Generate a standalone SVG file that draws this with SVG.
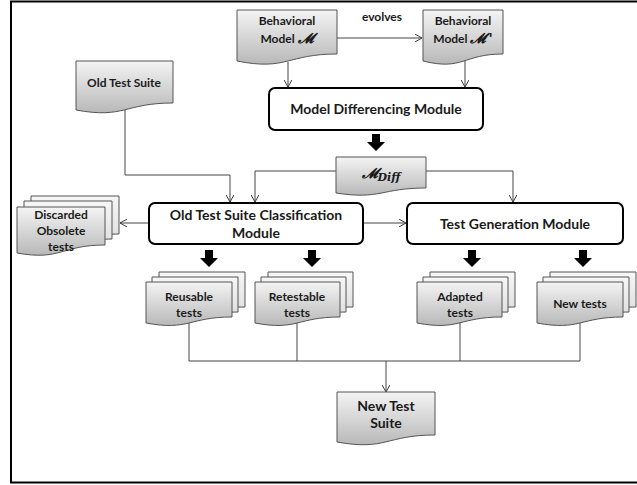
<svg xmlns="http://www.w3.org/2000/svg" width="637" height="485" viewBox="0 0 637 485">
<defs>
<linearGradient id="g" x1="0" y1="0" x2="0" y2="1">
<stop offset="0" stop-color="#f4f4f4"/>
<stop offset="1" stop-color="#b8b8b8"/>
</linearGradient>
<linearGradient id="gb" x1="0" y1="0" x2="0" y2="1">
<stop offset="0" stop-color="#f7f7f7"/>
<stop offset="1" stop-color="#dcdcdc"/>
</linearGradient>
<marker id="a" viewBox="0 0 10 10" refX="9" refY="5" markerWidth="8" markerHeight="8" markerUnits="userSpaceOnUse" orient="auto">
<path d="M0,0 L9,5 L0,10" fill="none" stroke="#333" stroke-width="1.2"/>
</marker>
<path id="blk" d="M-4,0 H4 V8 H9 L0,17 L-9,8 H-4 Z" fill="#000"/>
</defs>
<style>
.doc{fill:url(#g);stroke:#555;stroke-width:1}
.back{fill:url(#gb);stroke:#555;stroke-width:1}
.box{fill:#fff;stroke:#000;stroke-width:2}
.t{font-family:Lato,"Liberation Sans",sans-serif;font-weight:bold;fill:#1a1a1a;text-anchor:middle}
.s{font-size:12px}
.m{font-size:14px}
.c{fill:none;stroke:#444;stroke-width:1}
.ca{fill:none;stroke:#444;stroke-width:1;marker-end:url(#a)}
.math{font-family:"DejaVu Serif",serif;font-style:italic;font-weight:bold}
</style>
<rect x="11" y="1.5" width="640" height="481" fill="#fff" stroke="#000" stroke-width="2"/>

<g id="connectors">
<line class="ca" x1="337" y1="38" x2="422" y2="38"/>
<text class="t s" x="382" y="21">evolves</text>
<line class="ca" x1="288" y1="62" x2="288" y2="87"/>
<line class="ca" x1="465" y1="60" x2="465" y2="87"/>
<use href="#blk" x="376" y="134"/>
<polyline class="ca" points="336,171 255,171 255,202"/>
<polyline class="ca" points="426,171 513,171 513,202"/>
<polyline class="ca" points="125,110 125,175 230,175 230,202"/>
<line class="ca" x1="149" y1="223" x2="120" y2="223"/>
<line class="ca" x1="363" y1="223" x2="406" y2="223"/>
<use href="#blk" x="209" y="250"/>
<use href="#blk" x="312" y="250"/>
<use href="#blk" x="472" y="250"/>
<use href="#blk" x="583" y="250"/>
<polyline class="c" points="189,322 189,361 580,361 580,320"/>
<line class="c" x1="297" y1="322" x2="297" y2="361"/>
<line class="c" x1="460" y1="322" x2="460" y2="361"/>
<line class="ca" x1="386" y1="361" x2="386" y2="392"/>
</g>

<g id="model">
<path class="doc" d="M237,10 H337 V54 C287,54 287,71 237,61 Z"/>
<text class="t s" x="287" y="25">Behavioral</text>
<text class="t s" x="287" y="43">Model <tspan class="math" font-size="14">𝓜</tspan></text>
</g>

<g id="model2">
<path class="doc" d="M423,10 H503 V54 C463,54 463,71 423,61 Z"/>
<text class="t s" x="463" y="25">Behavioral</text>
<text class="t s" x="463" y="43">Model <tspan class="math" font-size="14">𝓜</tspan><tspan dx="2" font-family="'DejaVu Sans',sans-serif" font-size="14" font-weight="bold">'</tspan></text>
</g>

<g id="mdm">
<rect class="box" x="269" y="88" width="214" height="42" rx="6"/>
<text class="t m" x="376" y="114">Model Differencing Module</text>
</g>

<g id="mdiff">
<path class="doc" d="M336,157 H426 V188 C381,188 381,200 336,193 Z"/>
<text class="math" x="381" y="178" text-anchor="middle" font-size="14" fill="#1a1a1a">𝓜<tspan font-size="11" dy="3">Diff</tspan></text>
</g>

<g id="oldsuite">
<path class="doc" d="M76,61 H173 V103 C124.5,103 124.5,119 76,110 Z"/>
<text class="t s" x="124" y="87">Old Test Suite</text>
</g>

<g id="classif">
<rect class="box" x="149" y="203" width="214" height="41" rx="6"/>
<text class="t m" x="256" y="220">Old Test Suite Classification</text>
<text class="t m" x="256" y="238">Module</text>
</g>

<g id="testgen">
<rect class="box" x="407" y="203" width="216" height="41" rx="6"/>
<text class="t m" x="515" y="229">Test Generation Module</text>
</g>

<g id="discarded">
<path class="back" d="M31,196 H119 V234 C75,234 75,250 31,242 Z"/>
<path class="back" d="M24,201 H112 V239 C68,239 68,255 24,247 Z"/>
<path class="doc" d="M17,207 H105 V245 C61,245 61,261 17,253 Z"/>
<text class="t s" x="61" y="219">Discarded</text>
<text class="t s" x="61" y="235">Obsolete</text>
<text class="t s" x="61" y="251">tests</text>
</g>

<g id="reusable">
<path class="back" d="M159,272 H245 V307 C202,307 202,321 159,313 Z"/>
<path class="back" d="M152,277 H238 V312 C195,312 195,326 152,318 Z"/>
<path class="doc" d="M146,282 H232 V317 C189,317 189,331 146,323 Z"/>
<text class="t s" x="189" y="301">Reusable</text>
<text class="t s" x="189" y="317">tests</text>
</g>

<g id="retestable">
<path class="back" d="M268,272 H353 V307 C310,307 310,321 268,313 Z"/>
<path class="back" d="M261,277 H346 V312 C303,312 303,326 261,318 Z"/>
<path class="doc" d="M255,282 H340 V317 C297,317 297,331 255,323 Z"/>
<text class="t s" x="297" y="301">Retestable</text>
<text class="t s" x="297" y="317">tests</text>
</g>

<g id="adapted">
<path class="back" d="M430,272 H515 V307 C472,307 472,321 430,313 Z"/>
<path class="back" d="M423,277 H508 V312 C465,312 465,326 423,318 Z"/>
<path class="doc" d="M417,282 H502 V317 C459,317 459,331 417,323 Z"/>
<text class="t s" x="460" y="301">Adapted</text>
<text class="t s" x="460" y="317">tests</text>
</g>

<g id="newtests">
<path class="back" d="M550,272 H636 V307 C593,307 593,321 550,313 Z"/>
<path class="back" d="M543,277 H629 V312 C586,312 586,326 543,318 Z"/>
<path class="doc" d="M537,282 H623 V317 C580,317 580,331 537,323 Z"/>
<text class="t s" x="580" y="308">New tests</text>
</g>

<g id="newsuite">
<path class="doc" d="M337,392 H435 V435 C386,435 386,451 337,442 Z"/>
<text class="t m" x="386" y="411">New Test</text>
<text class="t m" x="386" y="428">Suite</text>
</g>
</svg>
